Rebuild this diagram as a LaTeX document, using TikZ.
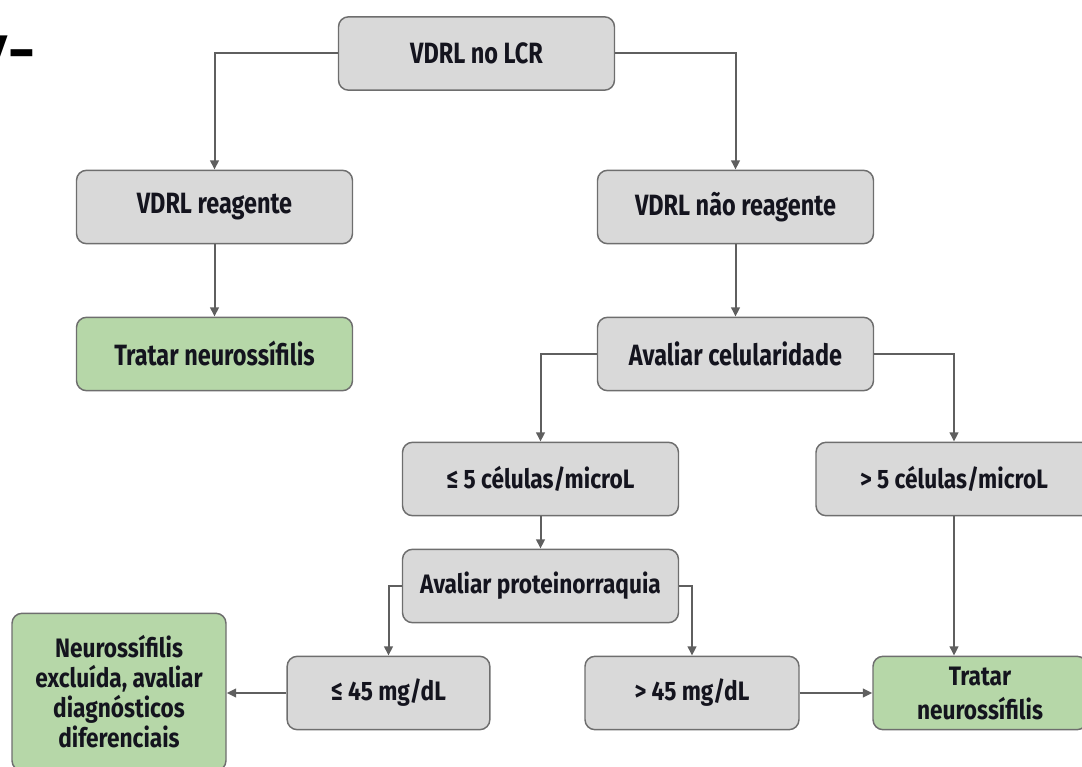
\documentclass[tikz,border=0pt]{standalone}
\usepackage{fontspec}
\setmainfont{Fira Sans}[FakeStretch=0.80]
\newfontfamily\smallfam{Fira Sans}[FakeStretch=0.85]
\newfontfamily\heavyfont{Poppins}
\usetikzlibrary{arrows.meta}
\definecolor{boxgray}{HTML}{D9D9D9}
\definecolor{boxgreen}{HTML}{B6D7A8}
\definecolor{edgegray}{HTML}{6E6E6E}
\definecolor{linegray}{HTML}{5F5F5F}
\definecolor{ink}{HTML}{14141E}
\newcommand{\bigtext}{\fontsize{22}{26}\selectfont\bfseries}
\newcommand{\smalltext}{\smallfam\fontsize{20}{23}\selectfont\bfseries}
\begin{document}
\begin{tikzpicture}[x=0.75pt,y=-0.75pt,
  box/.style={draw=edgegray, line width=1.1pt, rounded corners=7.5pt,
    fill=boxgray, minimum width=207pt, minimum height=55pt, inner sep=2pt,
    align=center, text=ink, font=\bigtext},
  smallbox/.style={box, font=\smalltext},
  narrow/.style={minimum width=160.5pt},
  greenbox/.style={fill=boxgreen},
  conn/.style={draw=linegray, line width=1.5pt,
    -{Triangle[length=7pt,width=6.5pt]}}]
\useasboundingbox (0,0) rectangle (1082,767);

% partial heading at the left edge
\node[anchor=base east, inner sep=0pt, text=black,
  font=\heavyfont\bfseries\fontsize{37}{37}\selectfont] (vtag) at (37,70) {V-};

% boxes
\node[box] (top) at (476.5,53.5) {VDRL no LCR};
\node[box] (reag) at (214.5,207) {VDRL reagente};
\node[box] (nreag) at (735.5,207) {VDRL não reagente};
\node[box, greenbox] (trat1) at (214.5,354) {Tratar neurossífilis};
\node[box] (celul) at (735.5,354) {Avaliar celularidade};
\node[smallbox] (le5) at (540.5,479) {≤ 5 células/microL};
\node[smallbox] (gt5) at (954,479) {> 5 células/microL};
\node[smallbox] (prot) at (540.5,586) {Avaliar proteinorraquia};
\node[smallbox, narrow, greenbox, minimum height=118pt,
  font=\smallfam\fontsize{20}{22.5}\selectfont\bfseries] (excl) at (119,692)
  {Neurossífilis\\excluída, avaliar\\diagnósticos\\diferenciais};
\node[smallbox, minimum width=152pt] (le45) at (388.5,693) {≤ 45 mg/dL};
\node[smallbox, narrow] (gt45) at (692,693) {> 45 mg/dL};
\node[smallbox, narrow, greenbox,
  font=\smallfam\fontsize{20}{25.5}\selectfont\bfseries] (trat2) at (980,693)
  {Tratar\\neurossífilis};

% connectors
\draw[conn] (top.west) -| (reag.north);
\draw[conn] (top.east) -| (nreag.north);
\draw[conn] (reag) -- (trat1);
\draw[conn] (nreag) -- (celul);
\draw[conn] (celul.west) -| (le5.north);
\draw[conn] (celul.east) -| (gt5.north);
\draw[conn] (le5) -- (prot);
\draw[conn] (prot.west) -| (le45.north);
\draw[conn] (prot.east) -| (gt45.north);
\draw[conn] (le45.west) -- (le45.west -| excl.east);
\draw[conn] (gt45.east) -- (gt45.east -| trat2.west);
\draw[conn] (gt5.south) -- (gt5.south |- trat2.north);
\end{tikzpicture}
\end{document}
